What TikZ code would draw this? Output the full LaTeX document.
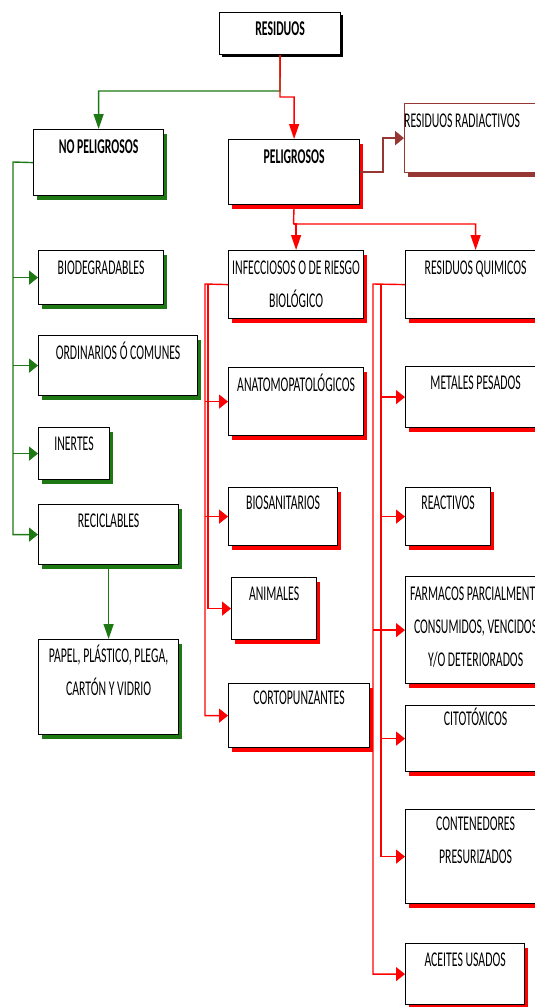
\documentclass[tikz,border=0pt]{standalone}
\usepackage{fontspec}
\setmainfont{Carlito}[FakeStretch=0.56]
\usetikzlibrary{arrows.meta,shadows}
\definecolor{verde}{RGB}{30,120,20}
\definecolor{rojo}{RGB}{255,0,0}
\definecolor{vino}{RGB}{150,55,52}
\begin{document}
\begin{tikzpicture}[x=1pt,y=-1pt,>={Triangle[length=9pt,width=14pt]},
	abajo/.style={-{Triangle[length=15pt,width=10pt]}},
	caja/.style={draw,line width=1.2pt,fill=white,anchor=north west,inner sep=0pt},
	snegra/.style={drop shadow={shadow xshift=2pt,shadow yshift=-2pt,fill=black,opacity=1}},
	sverde/.style={drop shadow={shadow xshift=3pt,shadow yshift=-4pt,fill=verde,opacity=1}},
	sroja/.style={drop shadow={shadow xshift=3pt,shadow yshift=-4pt,fill=rojo,opacity=1}},
	svino/.style={draw=vino,drop shadow={shadow xshift=3pt,shadow yshift=-4pt,fill=vino,opacity=1}},
	texto/.style={anchor=base,align=center,inner sep=0pt,font=\fontsize{21}{33}\selectfont},
	lverde/.style={draw=verde,line width=1.4pt},
	lroja/.style={draw=rojo,line width=1.4pt},
	lvino/.style={draw=vino,line width=2.5pt}]
		\clip (0,0) rectangle (535,1007);
		\node[caja,snegra,minimum width=121pt,minimum height=42pt] (residuos) at (219,12) {};
		\node[caja,sverde,minimum width=130pt,minimum height=66pt] (nop) at (33,129) {};
		\node[caja,sroja,minimum width=131pt,minimum height=65pt] (pel) at (228,139) {};
		\node[caja,svino,minimum width=150pt,minimum height=69pt] (radiac) at (404,103) {};
		\node[caja,sverde,minimum width=125pt,minimum height=54pt] (bio) at (38,250) {};
		\node[caja,sverde,minimum width=159pt,minimum height=60pt] (ordin) at (38,335) {};
		\node[caja,sverde,minimum width=71pt,minimum height=52pt] (inertes) at (38,427) {};
		\node[caja,sverde,minimum width=140pt,minimum height=60pt] (recic) at (38,504) {};
		\node[caja,sverde,minimum width=140pt,minimum height=95pt] (papel) at (38,639) {};
		\node[caja,sroja,minimum width=135pt,minimum height=68pt] (infec) at (228,250) {};
		\node[caja,sroja,minimum width=135pt,minimum height=68pt] (anato) at (228,367) {};
		\node[caja,sroja,minimum width=109pt,minimum height=58pt] (biosan) at (228,487) {};
		\node[caja,sroja,minimum width=85pt,minimum height=62pt] (animales) at (231,577) {};
		\node[caja,sroja,minimum width=141pt,minimum height=64pt] (corto) at (228,683) {};
		\node[caja,sroja,minimum width=140pt,minimum height=68pt] (quim) at (405,250) {};
		\node[caja,sroja,minimum width=140pt,minimum height=61pt] (metales) at (405,366) {};
		\node[caja,sroja,minimum width=85pt,minimum height=58pt] (reactivos) at (405,487) {};
		\node[caja,sroja,minimum width=140pt,minimum height=107pt] (farmacos) at (405,576) {};
		\node[caja,sroja,minimum width=140pt,minimum height=66pt] (citot) at (405,705) {};
		\node[caja,sroja,minimum width=140pt,minimum height=94pt] (conten) at (405,809) {};
		\node[caja,sroja,minimum width=119pt,minimum height=61pt] (aceites) at (405,943) {};
		\node[texto] (t-residuos) at ([yshift=-23pt]residuos.north) {\bfseries RESIDUOS};
		\node[texto] (t-nop) at ([yshift=-24pt]nop.north) {\bfseries NO PELIGROSOS};
		\node[texto] (t-pel) at ([yshift=-24pt]pel.north) {\bfseries PELIGROSOS};
		\node[texto,anchor=base west] (t-radiac) at ([yshift=-24pt]radiac.north west) {RESIDUOS RADIACTIVOS};
		\node[texto] (t-bio) at ([yshift=-24pt]bio.north) {BIODEGRADABLES};
		\node[texto] (t-ordin) at ([yshift=-24pt]ordin.north) {ORDINARIOS Ó COMUNES};
		\node[texto] (t-inertes) at ([yshift=-23pt]inertes.north) {INERTES};
		\node[texto] (t-recic) at ([yshift=-23pt]recic.north) {RECICLABLES};
		\node[texto] (t-papel) at ([yshift=-56pt]papel.north) {PAPEL, PLÁSTICO, PLEGA,\\CARTÓN Y VIDRIO};
		\node[texto] (t-infec) at ([yshift=-57pt]infec.north) {INFECCIOSOS O DE RIESGO\\BIOLÓGICO};
		\node[texto] (t-anato) at ([yshift=-24pt]anato.north) {ANATOMOPATOLÓGICOS};
		\node[texto] (t-biosan) at ([yshift=-22pt]biosan.north) {BIOSANITARIOS};
		\node[texto] (t-animales) at ([yshift=-23pt]animales.north) {ANIMALES};
		\node[texto] (t-corto) at ([yshift=-21pt]corto.north) {CORTOPUNZANTES};
		\node[texto] (t-quim) at ([yshift=-24pt]quim.north) {RESIDUOS QUIMICOS};
		\node[texto] (t-metales) at ([yshift=-23pt]metales.north) {METALES PESADOS};
		\node[texto] (t-reactivos) at ([yshift=-22pt]reactivos.north) {REACTIVOS};
		\node[texto] (t-farmacos) at ([yshift=-90pt]farmacos.north) {FARMACOS PARCIALMENTE\\CONSUMIDOS, VENCIDOS\\Y/O DETERIORADOS};
		\node[texto] (t-citot) at ([yshift=-20pt]citot.north) {CITOTÓXICOS};
		\node[texto] (t-conten) at ([yshift=-54pt]conten.north) {CONTENEDORES\\PRESURIZADOS};
		\node[texto] (t-aceites) at ([yshift=-23pt]aceites.north) {ACEITES USADOS};
		\coordinate (c1) at (280,91);
		\coordinate (c2) at (280,97);
		\coordinate (c3) at (293.5,224);
		\coordinate (tv) at (13,162);
		\coordinate (tm1) at (205,284);
		\coordinate (tm2) at (208,284);
		\coordinate (tr1) at (373,284);
		\coordinate (tr2) at (381,284);
		\draw[lverde,abajo] (residuos.south) -- (c1) -| (nop.north);
		\draw[lroja,abajo] (residuos.south) -- (c2) -| (pel.north);
		\draw[lvino,->] (pel.east) -- ++(23,0) |- (radiac.west);
		\draw[lverde,->] (nop.west) -- (tv) |- (recic.west);
		\draw[lverde,->] (tv |- bio.west) -- (bio.west);
		\draw[lverde,->] (tv |- ordin.west) -- (ordin.west);
		\draw[lverde,->] (tv |- inertes.west) -- (inertes.west);
		\draw[lverde,abajo] (recic.south) -- (papel.north);
		\draw[lroja,abajo] (pel.south) -- (c3) -| (quim.north);
		\draw[lroja,abajo] (c3) -| (infec.north);
		\draw[lroja,->] (infec.west) -- (tm1) |- (corto.west);
		\draw[lroja,->] (tm2) |- (animales.west);
		\draw[lroja,->] (tm1 |- anato.west) -- (anato.west);
		\draw[lroja,->] (tm1 |- biosan.west) -- (biosan.west);
		\draw[lroja,->] (quim.west) -- (tr1) |- (aceites.west);
		\draw[lroja,->] (tr2) |- (conten.west);
		\draw[lroja,->] (tr2 |- metales.west) -- (metales.west);
		\draw[lroja,->] (tr2 |- reactivos.west) -- (reactivos.west);
		\draw[lroja,->] (tr1 |- farmacos.west) -- (farmacos.west);
		\draw[lroja,->] (tr2 |- citot.west) -- (citot.west);
	\end{tikzpicture}
\end{document}
